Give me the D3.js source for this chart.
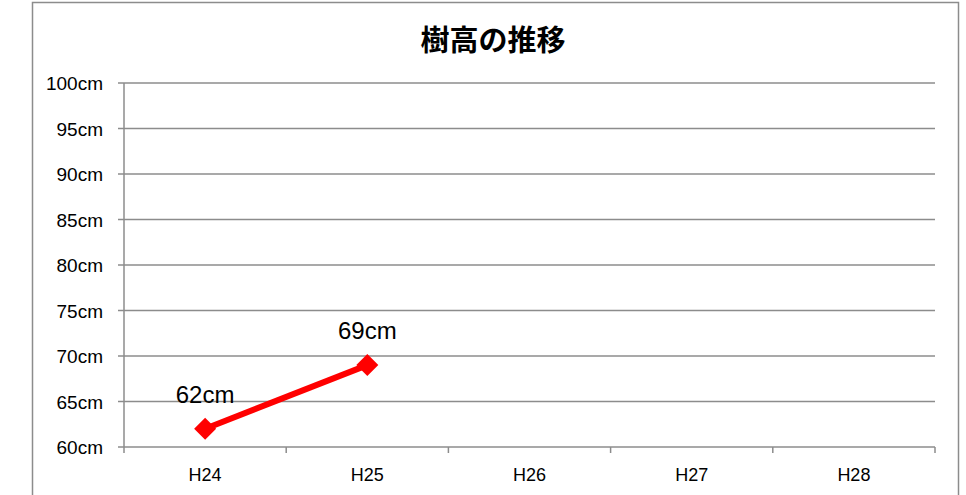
<!DOCTYPE html>
<html>
<head>
<meta charset="utf-8">
<script src="https://cdn.jsdelivr.net/npm/d3@7"></script>
<style>
  body { margin: 0; background: #fff; }
  text { font-family: "Liberation Sans", Arial, sans-serif; fill: #000; }
  .title { font-family: "Noto Sans CJK JP", sans-serif; font-weight: bold; }
</style>
</head>
<body>
<svg id="chart" width="966" height="495"></svg>
<script>
// chart data
const categories = ["H24", "H25", "H26", "H27", "H28"];
const heights = [62, 69];           // only two years measured so far
const yTicks = [60, 65, 70, 75, 80, 85, 90, 95, 100];
const titleText = "樹高の推移";

const svg = d3.select("#chart");
const margin = { left: 124, right: 935, top: 83, bottom: 447 };

// outer chart frame (runs past the bottom of the window)
svg.append("rect")
    .attr("x", 32.5).attr("y", 2.5)
    .attr("width", 926).attr("height", 520)
    .attr("fill", "none")
    .attr("stroke", "#8c8c8c")
    .attr("stroke-width", 1.5);

const x = d3.scaleBand()
    .domain(categories)
    .range([margin.left, margin.right]);

const y = d3.scaleLinear()
    .domain([60, 100])
    .range([margin.bottom, margin.top]);

// horizontal gridlines with small ticks to the left
svg.append("g")
    .selectAll("line")
    .data(yTicks)
    .join("line")
    .attr("x1", margin.left - 6)
    .attr("x2", margin.right)
    .attr("y1", d => y(d))
    .attr("y2", d => y(d))
    .attr("stroke", "#8c8c8c")
    .attr("stroke-width", 1.5);

// y tick labels
svg.append("g")
    .selectAll("text")
    .data(yTicks)
    .join("text")
    .attr("x", 103)
    .attr("y", d => y(d) + 7)
    .attr("text-anchor", "end")
    .attr("font-size", "19px")
    .text(d => d + "cm");

// vertical axis line
svg.append("line")
    .attr("x1", margin.left).attr("x2", margin.left)
    .attr("y1", margin.top).attr("y2", margin.bottom)
    .attr("stroke", "#8c8c8c")
    .attr("stroke-width", 1.5);

// x ticks sit on the band edges
const edges = categories.map(c => x(c)).concat([margin.right]);
svg.append("g")
    .selectAll("line")
    .data(edges)
    .join("line")
    .attr("x1", d => d).attr("x2", d => d)
    .attr("y1", margin.bottom)
    .attr("y2", margin.bottom + 6)
    .attr("stroke", "#8c8c8c")
    .attr("stroke-width", 1.5);

// x labels
svg.append("g")
    .selectAll("text")
    .data(categories)
    .join("text")
    .attr("x", d => x(d) + x.bandwidth() / 2)
    .attr("y", 481)
    .attr("text-anchor", "middle")
    .attr("font-size", "18px")
    .text(d => d);

// series line
const pts = heights.map((v, i) => [x(categories[i]) + x.bandwidth() / 2, y(v)]);

svg.append("path")
    .datum(pts)
    .attr("d", d3.line())
    .attr("fill", "none")
    .attr("stroke", "#ff0000")
    .attr("stroke-width", 6);

// diamond markers
svg.append("g")
    .selectAll("path")
    .data(pts)
    .join("path")
    .attr("transform", d => `translate(${d[0]},${d[1]})`)
    .attr("d", "M0,-11L11,0L0,11L-11,0Z")
    .attr("fill", "#ff0000");

// data labels
svg.append("g")
    .selectAll("text")
    .data(heights)
    .join("text")
    .attr("x", (d, i) => pts[i][0])
    .attr("y", (d, i) => pts[i][1] - 26)
    .attr("text-anchor", "middle")
    .attr("font-size", "24px")
    .text(d => d + "cm");

// title
svg.append("text")
    .attr("class", "title")
    .attr("x", 493)
    .attr("y", 51)
    .attr("text-anchor", "middle")
    .attr("font-size", "29px")
    .text(titleText);
</script>
</body>
</html>
